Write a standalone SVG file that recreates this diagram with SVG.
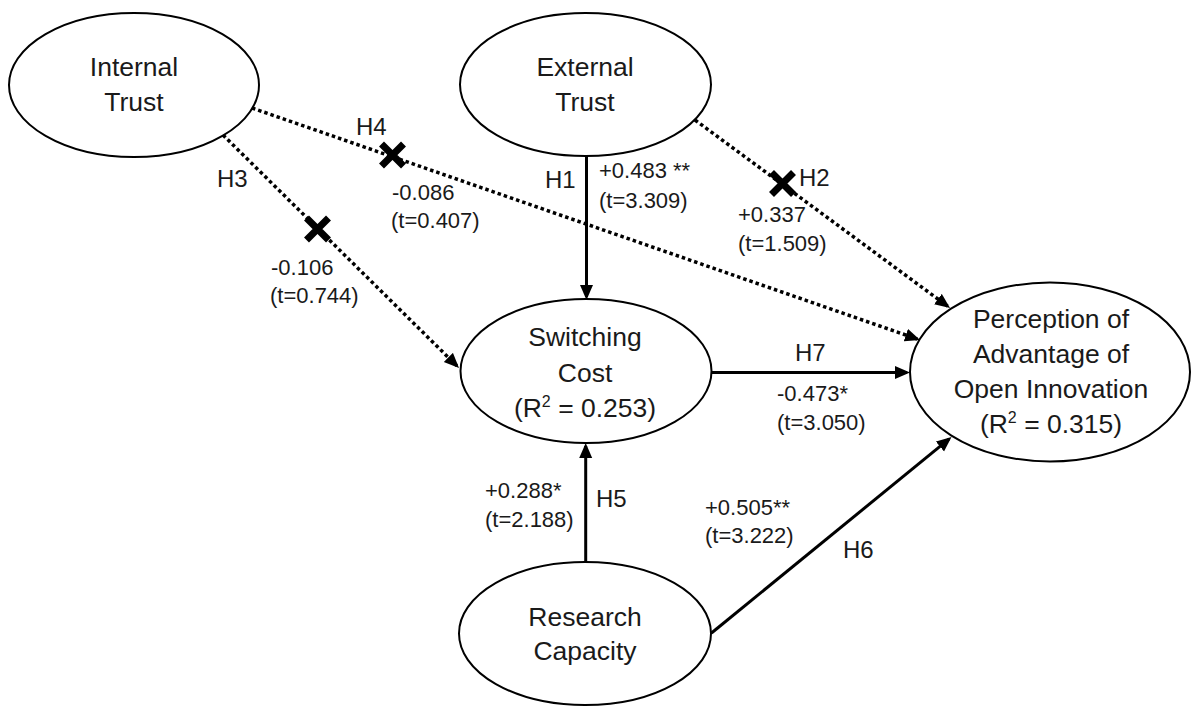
<svg xmlns="http://www.w3.org/2000/svg" width="1192" height="707" viewBox="0 0 1192 707">
<style>
.node{fill:#fff;stroke:#000;stroke-width:2}
.nt{font-family:"Liberation Sans",Arial,sans-serif;font-size:26.5px;fill:#1a1a1a;text-anchor:middle}
.lb{font-family:"Liberation Sans",Arial,sans-serif;font-size:22px;fill:#1a1a1a}
.hl{font-family:"Liberation Sans",Arial,sans-serif;font-size:24px;fill:#1a1a1a}
.solid{stroke:#000;stroke-width:3;fill:none;marker-end:url(#ah)}
.dot{stroke:#000;stroke-width:3.5;fill:none;stroke-dasharray:3.5 3;marker-end:url(#ah)}
.x{stroke:#000;stroke-width:7;fill:none}
</style>
<defs>
<marker id="ah" markerUnits="userSpaceOnUse" markerWidth="16" markerHeight="14" refX="12" refY="6.5" orient="auto">
<path d="M0,0 L15,6.5 L0,13 Z" fill="#000"/>
</marker>
</defs>
<rect width="1192" height="707" fill="#fff"/>
<g id="connectors">
<line class="solid" x1="586.5" y1="156" x2="586.5" y2="297"/>
<line class="solid" x1="585.7" y1="562" x2="585.7" y2="446"/>
<line class="solid" x1="711.5" y1="372.5" x2="907" y2="372.5"/>
<line class="solid" x1="711.5" y1="633" x2="949.2" y2="438.9"/>
<line class="dot" x1="695" y1="120" x2="947.6" y2="306.2"/>
<line class="dot" x1="252" y1="108" x2="917.2" y2="339"/>
<line class="dot" x1="223" y1="135" x2="456.9" y2="365.9"/>
<path class="x" d="M381.5,144 L403.5,166 M403.5,144 L381.5,166"/>
<path class="x" d="M306.5,218 L328.5,240 M328.5,218 L306.5,240"/>
<path class="x" d="M771.5,172.5 L793.5,194.5 M793.5,172.5 L771.5,194.5"/>
</g>
<g id="labels">
<text class="hl" x="356" y="135">H4</text>
<text class="lb" x="392" y="200">-0.086</text>
<text class="lb" x="391" y="228">(t=0.407)</text>
<text class="hl" x="217" y="187">H3</text>
<text class="lb" x="271" y="275">-0.106</text>
<text class="lb" x="270" y="303">(t=0.744)</text>
<text class="hl" x="545" y="188">H1</text>
<text class="lb" x="599" y="178">+0.483 **</text>
<text class="lb" x="599" y="208">(t=3.309)</text>
<text class="hl" x="799" y="186">H2</text>
<text class="lb" x="738" y="222">+0.337</text>
<text class="lb" x="738" y="251">(t=1.509)</text>
<text class="hl" x="795" y="361">H7</text>
<text class="lb" x="777" y="401">-0.473*</text>
<text class="lb" x="777" y="430">(t=3.050)</text>
<text class="lb" x="485" y="498">+0.288*</text>
<text class="lb" x="485" y="527">(t=2.188)</text>
<text class="hl" x="596" y="507">H5</text>
<text class="lb" x="705" y="515">+0.505**</text>
<text class="lb" x="705" y="543">(t=3.222)</text>
<text class="hl" x="843" y="558">H6</text>
</g>
<g id="internal-trust">
<ellipse class="node" cx="134" cy="85" rx="125" ry="72"/>
<text class="nt" x="134" y="76">Internal</text>
<text class="nt" x="134" y="111">Trust</text>
</g>
<g id="external-trust">
<ellipse class="node" cx="585.5" cy="84.5" rx="125.5" ry="71.5"/>
<text class="nt" x="585" y="76">External</text>
<text class="nt" x="585" y="111">Trust</text>
</g>
<g id="switching-cost">
<ellipse class="node" cx="586" cy="371" rx="125.5" ry="72"/>
<text class="nt" x="585" y="346">Switching</text>
<text class="nt" x="585" y="382">Cost</text>
<text class="nt" x="585" y="417">(R<tspan font-size="16" dy="-10">2</tspan><tspan dy="10"> = 0.253)</tspan></text>
</g>
<g id="perception">
<ellipse class="node" cx="1050" cy="372" rx="140" ry="89.5"/>
<text class="nt" x="1051" y="328">Perception of</text>
<text class="nt" x="1051" y="363">Advantage of</text>
<text class="nt" x="1051" y="398">Open Innovation</text>
<text class="nt" x="1051" y="433">(R<tspan font-size="16" dy="-10">2</tspan><tspan dy="10"> = 0.315)</tspan></text>
</g>
<g id="research-capacity">
<ellipse class="node" cx="585" cy="633.5" rx="126" ry="71.5"/>
<text class="nt" x="585" y="626">Research</text>
<text class="nt" x="585" y="660">Capacity</text>
</g>
</svg>
